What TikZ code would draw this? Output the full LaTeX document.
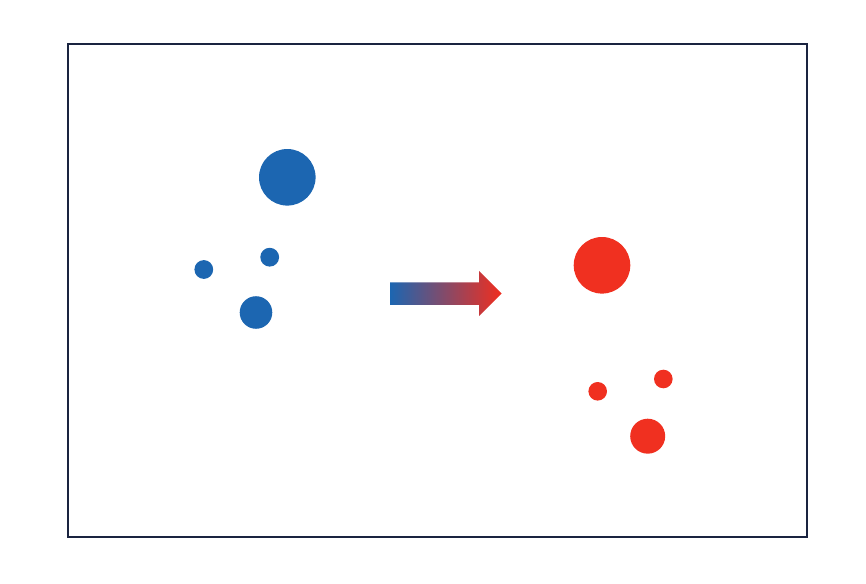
\documentclass[tikz,border=0pt]{standalone}
\usepackage{tikz}
\usetikzlibrary{positioning, calc}
\definecolor{azul}{HTML}{1C66B1}
\definecolor{rojo}{HTML}{F03020}
\definecolor{marino}{HTML}{1A2440}
\tikzset{
  gota/.style={circle, inner sep=0pt, draw=none},
  gotaazul/.style={gota, fill=azul},
  gotaroja/.style={gota, fill=rojo},
  marco/.style={draw=marino, line width=1.15pt}
}

\begin{document}
\begin{tikzpicture}[x=0.02cm, y=-0.02cm]
  \useasboundingbox (0,0) rectangle (866,584);
  \draw [marco] (68,44) rectangle (807,537);
  % Grupo izquierdo: azul
  \node (ag) [gotaazul, minimum size=1.132cm] at (287.3,177.3) {};
  \node (ap1) [gotaazul, minimum size=0.376cm] at (203.8,269.5) {};
  \node (ap2) [gotaazul, minimum size=0.376cm] at (269.7,257.2) {};
  \node (am) [gotaazul, minimum size=0.652cm] at (256,312.5) {};
  % Flecha con degradado
  \path [left color=azul, right color=rojo!95!red]
    (390,282.5) -- (479,282.5) -- (479,271) -- (501.7,293.5) -- (479,316) -- (479,305) -- (390,305) -- cycle;
  % Grupo derecho: rojo
  \node (rg) [gotaroja, minimum size=1.132cm] at (602,265.3) {};
  \node (rp1) [gotaroja, minimum size=0.372cm] at (597.7,391.3) {};
  \node (rp2) [gotaroja, minimum size=0.372cm] at (663.3,379) {};
  \node (rm) [gotaroja, minimum size=0.70cm] at (647.7,436.2) {};
\end{tikzpicture}
\end{document}
